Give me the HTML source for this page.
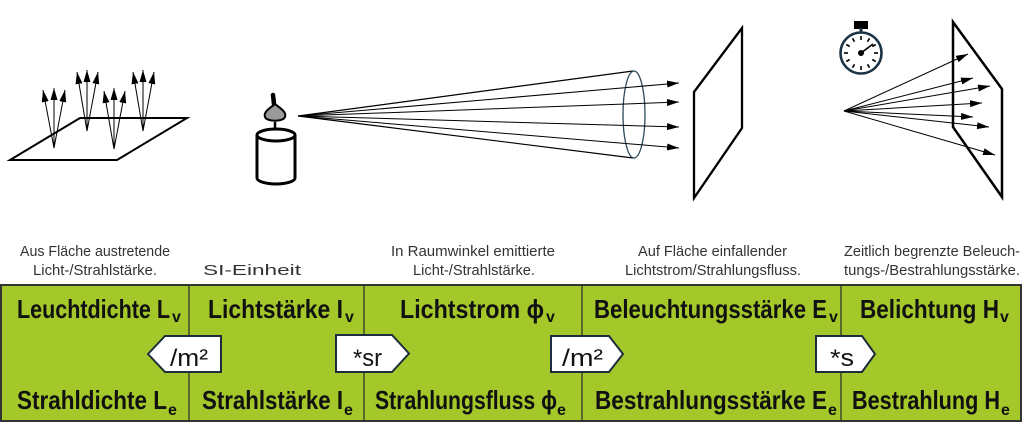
<!DOCTYPE html>
<html><head><meta charset="utf-8"><style>
html,body{margin:0;padding:0;background:#fff;}
svg{display:block;}
.cap{font-family:"Liberation Sans",sans-serif;font-size:15px;fill:#333;}
.big{font-family:"Liberation Sans","DejaVu Sans",sans-serif;font-size:26px;font-weight:bold;fill:#111;}
.sub{font-family:"Liberation Sans",sans-serif;font-size:16px;font-weight:bold;fill:#111;}
.box{font-family:"Liberation Sans",sans-serif;font-size:24px;fill:#111;}
</style></head><body>
<svg width="1024" height="423" viewBox="0 0 1024 423" xmlns="http://www.w3.org/2000/svg">
<defs>
<marker id="a" markerWidth="12" markerHeight="7" refX="12" refY="3.5" orient="auto" markerUnits="userSpaceOnUse"><path d="M0,0 L12,3.5 L0,7 z" fill="#000"/></marker>
</defs>
<rect width="1024" height="423" fill="#fff"/>

<!-- Left surface -->
<polygon points="10,160 117,160 187,118 80,118" fill="none" stroke="#000" stroke-width="2"/>
<g stroke="#000" stroke-width="1" marker-end="url(#a)">
<line x1="54" y1="148" x2="43" y2="90"/><line x1="54" y1="148" x2="54" y2="88"/><line x1="54" y1="148" x2="65" y2="90"/>
<line x1="87" y1="131" x2="77" y2="72"/><line x1="87" y1="131" x2="87" y2="70"/><line x1="87" y1="131" x2="98" y2="72"/>
<line x1="114" y1="149" x2="104" y2="91"/><line x1="114" y1="149" x2="114" y2="88"/><line x1="114" y1="149" x2="125" y2="91"/>
<line x1="143" y1="131" x2="133" y2="72"/><line x1="143" y1="131" x2="143" y2="70"/><line x1="143" y1="131" x2="154" y2="72"/>
</g>

<!-- Candle -->
<path d="M257,135 L257,178 A19,6 0 0 0 295,178 L295,135" fill="none" stroke="#000" stroke-width="3"/>
<ellipse cx="276" cy="135" rx="19" ry="6" fill="none" stroke="#000" stroke-width="3"/>
<line x1="273" y1="95" x2="274" y2="104" stroke="#000" stroke-width="4.5" stroke-linecap="round"/>
<path d="M275,104 C280,108 287,112 285,117 C283,122 267,122 265,117 C263,112 270,108 275,104 z" fill="#9a9a9a" stroke="#000" stroke-width="2"/>
<line x1="275" y1="122" x2="275" y2="130" stroke="#000" stroke-width="2.5"/>

<!-- Cone -->
<g stroke="#000" stroke-width="1.2" fill="none">
<line x1="298" y1="116" x2="633" y2="71"/>
<line x1="298" y1="116" x2="633" y2="158"/>
</g>
<ellipse cx="634" cy="114.5" rx="11" ry="43.5" fill="none" stroke="#2c4a5a" stroke-width="1.3"/>
<g stroke="#000" stroke-width="1" marker-end="url(#a)">
<line x1="298" y1="116" x2="679" y2="83"/>
<line x1="298" y1="116" x2="679" y2="102"/>
<line x1="298" y1="116" x2="679" y2="127"/>
<line x1="298" y1="116" x2="679" y2="148"/>
</g>
<!-- middle plane -->
<polygon points="694,92 742,28 742,128 694,198" fill="none" stroke="#000" stroke-width="2.3"/>

<!-- Stopwatch -->
<rect x="854" y="21" width="14" height="8" fill="#000"/>
<line x1="861" y1="28" x2="861" y2="33" stroke="#1c3344" stroke-width="3"/>
<circle cx="861" cy="53" r="20.5" fill="none" stroke="#1c3344" stroke-width="2.6"/>
<g stroke="#000" stroke-width="1.6">
<line x1="861" y1="36" x2="861" y2="40"/>
<line x1="869.5" y1="38.3" x2="867.5" y2="41.7"/>
<line x1="875.7" y1="44.5" x2="872.3" y2="46.5"/>
<line x1="878" y1="53" x2="874" y2="53"/>
<line x1="875.7" y1="61.5" x2="872.3" y2="59.5"/>
<line x1="869.5" y1="67.7" x2="867.5" y2="64.3"/>
<line x1="861" y1="70" x2="861" y2="66"/>
<line x1="852.5" y1="67.7" x2="854.5" y2="64.3"/>
<line x1="846.3" y1="61.5" x2="849.7" y2="59.5"/>
<line x1="844" y1="53" x2="848" y2="53"/>
<line x1="846.3" y1="44.5" x2="849.7" y2="46.5"/>
<line x1="852.5" y1="38.3" x2="854.5" y2="41.7"/>
</g>
<line x1="861" y1="53" x2="873" y2="44" stroke="#000" stroke-width="1.6"/>
<circle cx="861" cy="53" r="3" fill="#000"/>

<!-- Right plane and rays -->
<polygon points="953,22 1002,89 1002,197 953,127" fill="none" stroke="#000" stroke-width="2.5"/>
<g stroke="#000" stroke-width="1" marker-end="url(#a)">
<line x1="844" y1="111" x2="968" y2="54"/>
<line x1="844" y1="111" x2="973" y2="78"/>
<line x1="844" y1="111" x2="990" y2="86"/>
<line x1="844" y1="111" x2="982" y2="103"/>
<line x1="844" y1="111" x2="973" y2="117"/>
<line x1="844" y1="111" x2="989" y2="127"/>
<line x1="844" y1="111" x2="995" y2="155"/>
</g>

<!-- Captions -->
<text class="cap" x="20" y="256" textLength="150" lengthAdjust="spacingAndGlyphs">Aus Fläche austretende</text>
<text class="cap" x="33" y="275" textLength="124" lengthAdjust="spacingAndGlyphs">Licht-/Strahlstärke.</text>
<text class="cap" x="203" y="275" textLength="98" lengthAdjust="spacingAndGlyphs">SI-Einheit</text>
<text class="cap" x="391" y="256" textLength="164" lengthAdjust="spacingAndGlyphs">In Raumwinkel emittierte</text>
<text class="cap" x="413" y="275" textLength="122" lengthAdjust="spacingAndGlyphs">Licht-/Strahlstärke.</text>
<text class="cap" x="638" y="256" textLength="149" lengthAdjust="spacingAndGlyphs">Auf Fläche einfallender</text>
<text class="cap" x="625" y="275" textLength="176" lengthAdjust="spacingAndGlyphs">Lichtstrom/Strahlungsfluss.</text>
<text class="cap" x="844" y="256" textLength="176" lengthAdjust="spacingAndGlyphs">Zeitlich begrenzte Beleuch-</text>
<text class="cap" x="844" y="275" textLength="176" lengthAdjust="spacingAndGlyphs">tungs-/Bestrahlungsstärke.</text>

<!-- Green band -->
<rect x="1" y="285" width="1020" height="136" fill="#a4c82a" stroke="#333" stroke-width="2"/>
<g stroke="#2a2a2a" stroke-width="1.2">
<line x1="189" y1="285" x2="189" y2="421"/>
<line x1="364" y1="285" x2="364" y2="421"/>
<line x1="582" y1="285" x2="582" y2="421"/>
<line x1="841" y1="285" x2="841" y2="421"/>
</g>

<!-- Top row -->
<text class="big" x="17" y="318" textLength="153" lengthAdjust="spacingAndGlyphs">Leuchtdichte L</text><text class="sub" x="172" y="322">v</text>
<text class="big" x="208" y="318" textLength="135" lengthAdjust="spacingAndGlyphs">Lichtstärke I</text><text class="sub" x="345" y="322">v</text>
<text class="big" x="400" y="318" textLength="144" lengthAdjust="spacingAndGlyphs">Lichtstrom ϕ</text><text class="sub" x="546" y="322">v</text>
<text class="big" x="594" y="318" textLength="233" lengthAdjust="spacingAndGlyphs">Beleuchtungsstärke E</text><text class="sub" x="829" y="322">v</text>
<text class="big" x="860" y="318" textLength="139" lengthAdjust="spacingAndGlyphs">Belichtung H</text><text class="sub" x="1000" y="322">v</text>

<!-- Bottom row -->
<text class="big" x="17" y="409" textLength="150" lengthAdjust="spacingAndGlyphs">Strahldichte L</text><text class="sub" x="168" y="415">e</text>
<text class="big" x="202" y="409" textLength="141" lengthAdjust="spacingAndGlyphs">Strahlstärke I</text><text class="sub" x="344" y="415">e</text>
<text class="big" x="375" y="409" textLength="182" lengthAdjust="spacingAndGlyphs">Strahlungsfluss ϕ</text><text class="sub" x="557" y="415">e</text>
<text class="big" x="595" y="409" textLength="232" lengthAdjust="spacingAndGlyphs">Bestrahlungsstärke E</text><text class="sub" x="828" y="415">e</text>
<text class="big" x="852" y="409" textLength="148" lengthAdjust="spacingAndGlyphs">Bestrahlung H</text><text class="sub" x="1001" y="415">e</text>

<!-- Operator boxes -->
<g fill="#fff" stroke="#1c2e3c" stroke-width="2" stroke-linejoin="miter">
<polygon points="148,354 165,336 221,336 221,372 165,372"/>
<polygon points="336,335 392,335 409,353.5 392,372 336,372"/>
<polygon points="551,336 609,336 623,354 609,372 551,372"/>
<polygon points="816,336 862,336 875,354 862,372 816,372"/>
</g>
<text class="box" x="170" y="366" textLength="38" lengthAdjust="spacingAndGlyphs">/m²</text>
<text class="box" x="353" y="366" textLength="29" lengthAdjust="spacingAndGlyphs">*sr</text>
<text class="box" x="562" y="366" textLength="41" lengthAdjust="spacingAndGlyphs">/m²</text>
<text class="box" x="830" y="366" textLength="24" lengthAdjust="spacingAndGlyphs">*s</text>
</svg>
</body></html>
